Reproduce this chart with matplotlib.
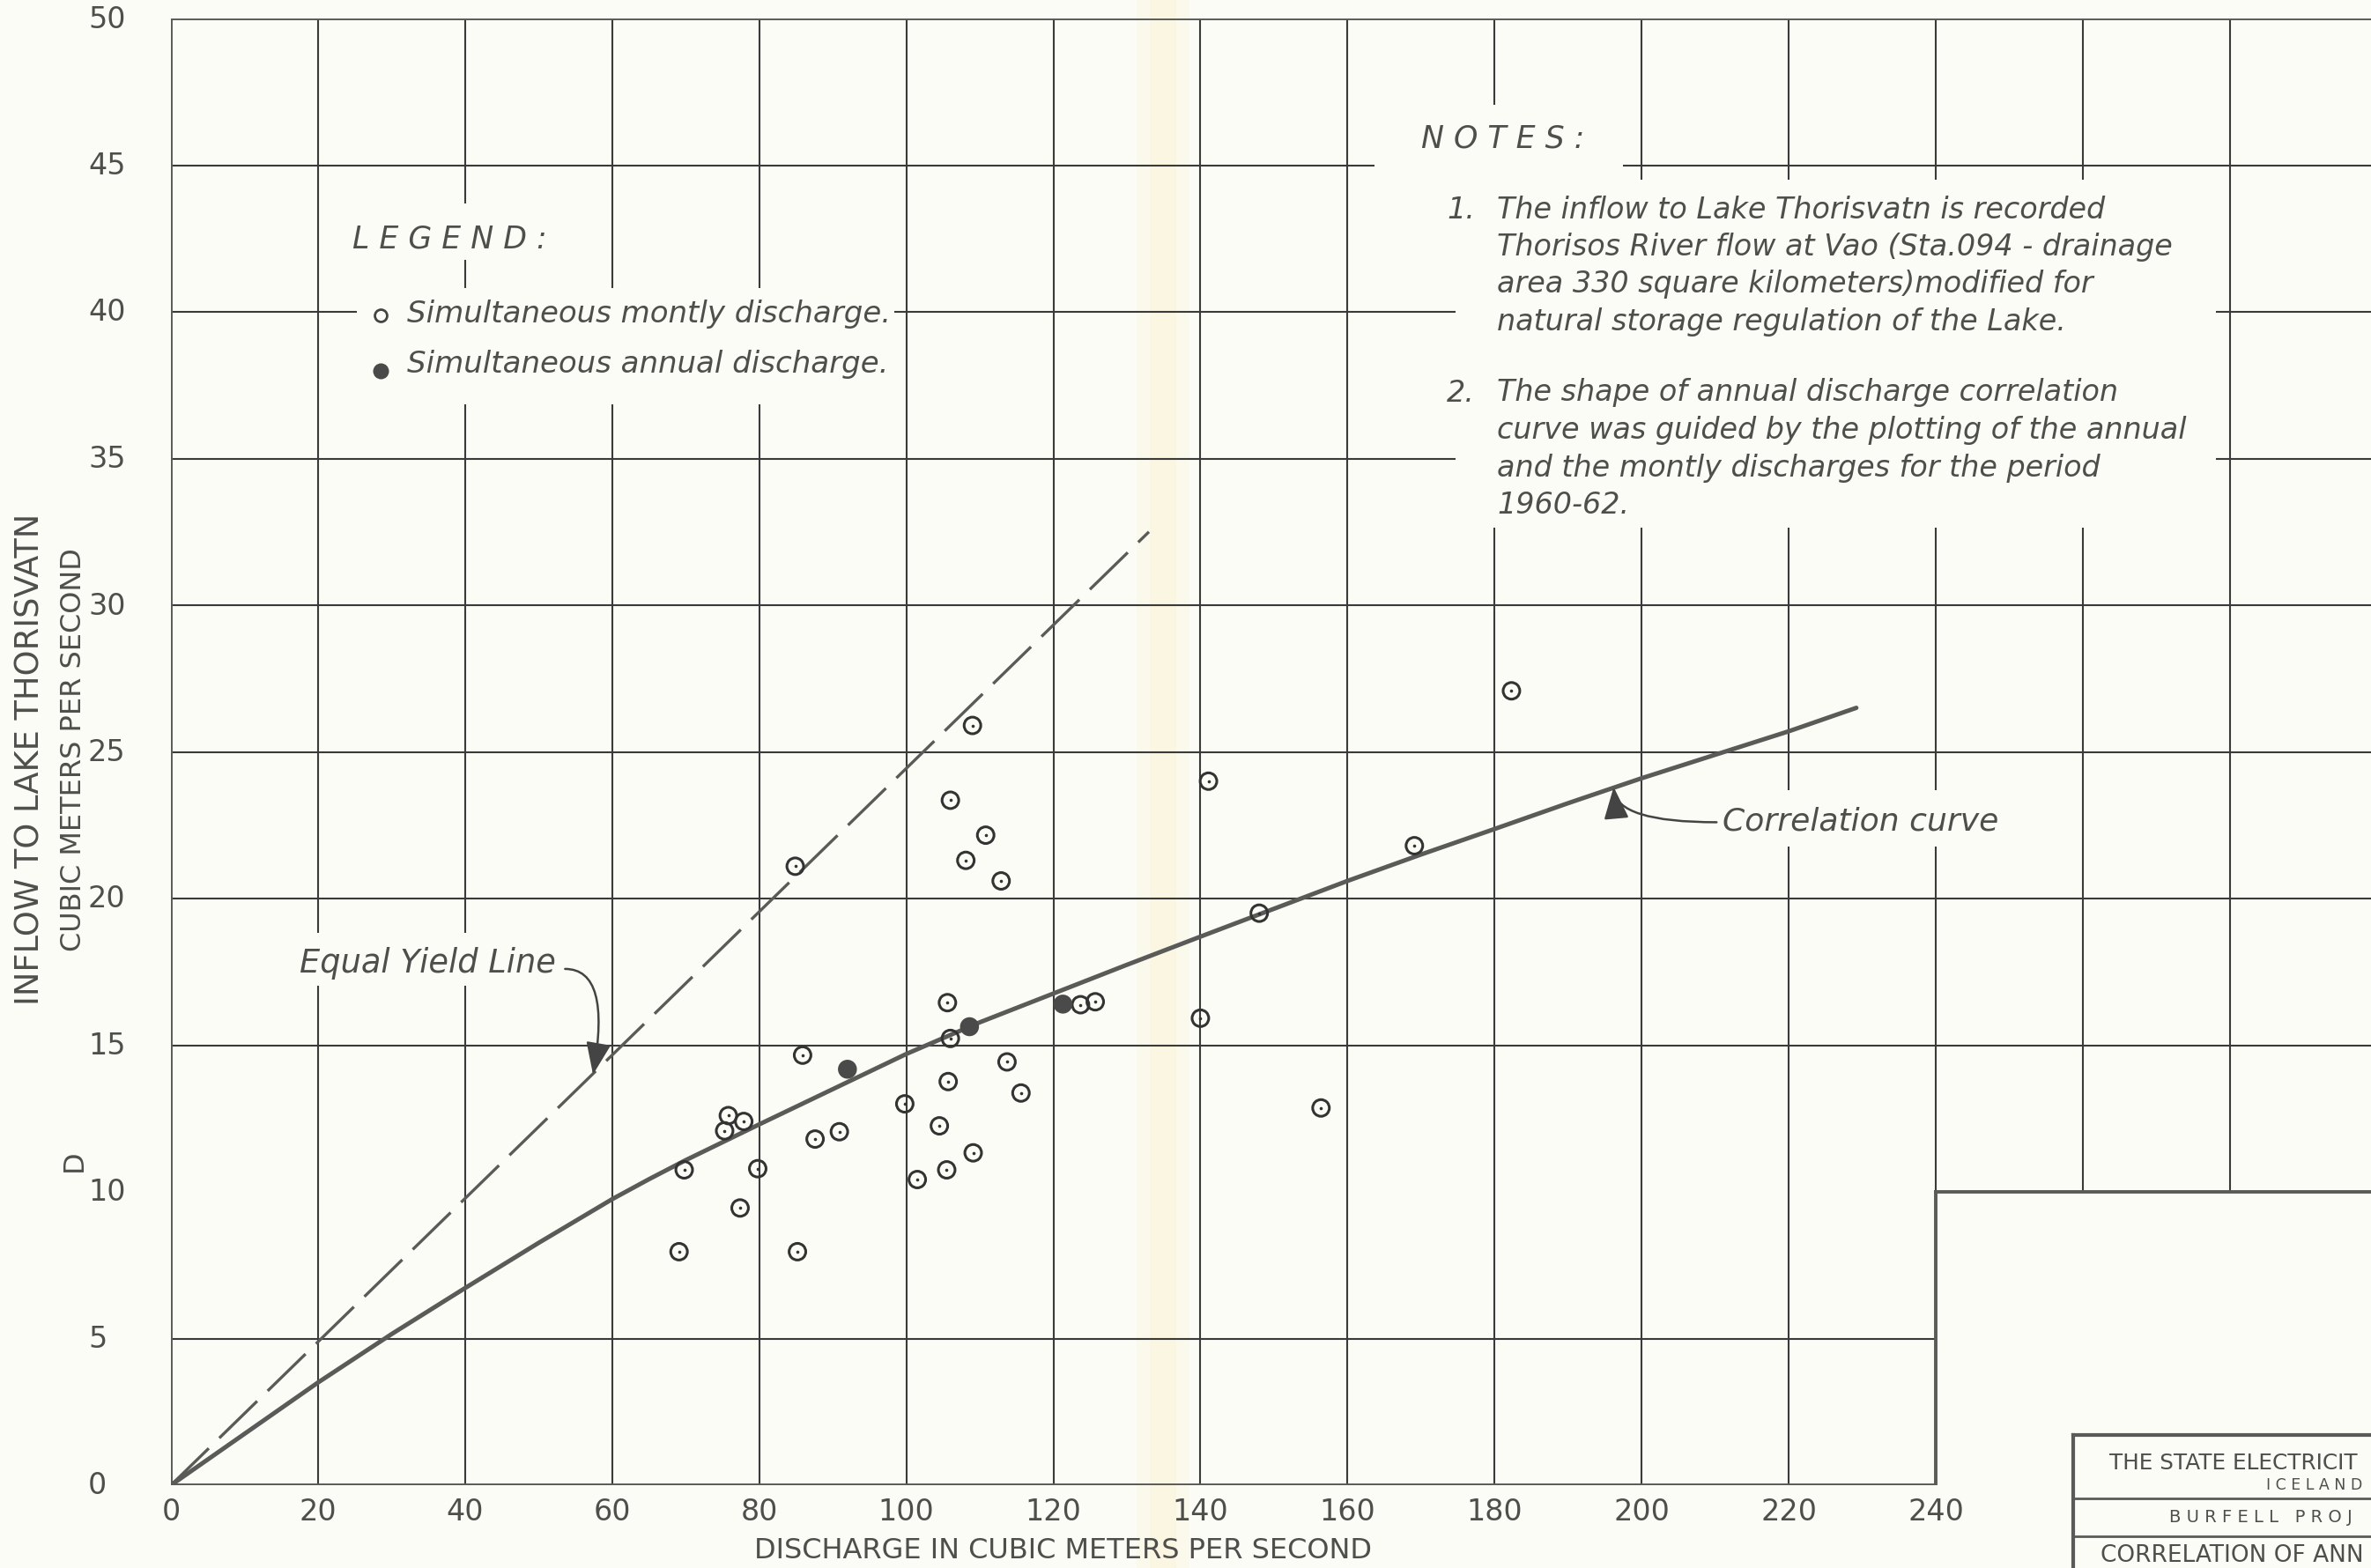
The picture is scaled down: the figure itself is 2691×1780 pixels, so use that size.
import matplotlib

matplotlib.use("Agg")
import matplotlib.pyplot as plt
import matplotlib.transforms as mtransforms
from matplotlib.patches import Rectangle

# ---- data ----
monthly_x = [69.1, 69.8, 75.3, 75.8, 77.4, 77.9, 79.8, 84.9, 85.2, 85.9, 87.6, 90.9,
             99.8, 101.5, 104.5, 105.5, 105.6, 105.7, 106.0, 106.0, 108.1, 109.0,
             109.1, 110.8, 112.9, 113.7, 115.6, 123.7, 125.7, 140.0, 141.1, 148.0,
             156.4, 169.1, 182.3]
monthly_y = [7.96, 10.75, 12.08, 12.6, 9.45, 12.4, 10.79, 21.1, 7.96, 14.66, 11.8, 12.05,
             13.0, 10.42, 12.25, 10.75, 16.45, 13.76, 23.35, 15.23, 21.3, 25.9,
             11.33, 22.16, 20.6, 14.43, 13.37, 16.38, 16.48, 15.92, 24.0, 19.5,
             12.86, 21.8, 27.08]
annual_x = [92.0, 108.6, 121.3]
annual_y = [14.18, 15.63, 16.4]

curve_x = [0, 20, 30, 40, 50, 60, 65, 70, 80, 90, 100, 110, 120, 130, 140, 150, 160,
           170, 180, 190, 200, 210, 220, 229.2]
curve_y = [0, 3.5, 5.15, 6.72, 8.26, 9.75, 10.43, 11.08, 12.3, 13.5, 14.7, 15.78, 16.76,
           17.74, 18.7, 19.65, 20.6, 21.5, 22.37, 23.25, 24.1, 24.9, 25.7, 26.5]

equal_x = [0, 133]
equal_y = [0, 32.5]

x_ticks = [0, 20, 40, 60, 80, 100, 120, 140, 160, 180, 200, 220, 240]
y_ticks = [0, 5, 10, 15, 20, 25, 30, 35, 40, 45, 50]
x_grid_upper = [260, 280]          # columns past 240 only above y = 10

notes_1 = ["The inflow to Lake Thorisvatn is recorded",
           "Thorisos River flow at Vao (Sta.094 - drainage",
           "area 330 square kilometers)modified for",
           "natural storage regulation of the Lake."]
notes_2 = ["The shape of annual discharge correlation",
           "curve was guided by the plotting of the annual",
           "and the montly discharges for the period",
           "1960-62."]

# ---- page geometry (pixels) ----
W, H = 2691, 1781
X0_PX, X240_PX = 194, 2197
Y0_PX, Y50_PX = 1687, 22
XMAX = 240 * (W - X0_PX) / (X240_PX - X0_PX)

PAPER = "#fcfcf6"
INK = "#3a3a3a"
PEN = "#5a5a58"
TXT = "#4e4e4c"


def fx(px):
    return px / W


def fy(py):
    return 1 - py / H


fig = plt.figure(figsize=(W / 100, H / 100), dpi=100, facecolor=PAPER)
ax = fig.add_axes([fx(X0_PX), fy(Y0_PX), 1 - fx(X0_PX), fy(Y50_PX) - fy(Y0_PX)])
ax.set_xlim(0, XMAX)
ax.set_ylim(0, 50)
ax.set_facecolor("none")
ax.set_axis_off()

# fold in the paper
for x0, x1, a in [(1290, 1350, 0.25), (1305, 1335, 0.35)]:
    ax.add_patch(Rectangle((fx(x0), 0), fx(x1) - fx(x0), 1, transform=fig.transFigure,
                           facecolor="#fbf3d2", edgecolor="none", alpha=a, zorder=0.2,
                           clip_on=False))

# ---- grid ----
glw = 1.5
ax.vlines(x_ticks[1:-1], 0, 50, color=INK, lw=glw, zorder=1)
ax.vlines([240] + x_grid_upper, 10, 50, color=INK, lw=glw, zorder=1)
ax.hlines(5, 0, 240, color=INK, lw=glw, zorder=1)
ax.hlines(y_ticks[3:-1], 0, XMAX, color=INK, lw=glw, zorder=1)

# outline
flw = 2.8
ax.plot([0, 0], [0, 50], color=PEN, lw=flw, zorder=1.2, solid_capstyle="projecting")
ax.plot([0, 240, 240], [0, 0, 10], color=PEN, lw=flw, zorder=1.2)
ax.plot([240, XMAX], [10, 10], color=PEN, lw=flw, zorder=1.2)
ax.plot([0, XMAX], [50, 50], color=PEN, lw=flw, zorder=1.2)


# paper showing through around the lettering
def blank(x0, y0, x1, y1):
    ax.add_patch(Rectangle((fx(x0), fy(y1)), fx(x1) - fx(x0), fy(y0) - fy(y1),
                           transform=fig.transFigure, facecolor=PAPER, edgecolor="none",
                           zorder=1.5, clip_on=False))


blank(395, 232, 640, 296)      # LEGEND:
blank(405, 328, 1015, 460)     # legend entries
blank(1560, 120, 1842, 205)    # NOTES:
blank(1652, 205, 2515, 600)    # notes text
blank(335, 1060, 645, 1120)    # Equal Yield Line
blank(1945, 898, 2290, 962)    # Correlation curve

# ---- curves and points ----
ax.plot(equal_x, equal_y, color=PEN, lw=2.4, dashes=(18, 5), zorder=2)
ax.plot(curve_x, curve_y, color=PEN, lw=3.6, solid_capstyle="round",
        solid_joinstyle="round", zorder=2.2)

ax.scatter(monthly_x, monthly_y, s=185, facecolors="none", edgecolors="#333333",
           linewidths=2.2, zorder=3)
ax.scatter(monthly_x, monthly_y, s=2.5, color="#333333", zorder=3)
ax.scatter(annual_x, annual_y, s=240, color="#4a4a4a", edgecolors="none", zorder=3.1)

# ---- tick labels ----
xlab_tr = mtransforms.blended_transform_factory(ax.transData, fig.transFigure)
ylab_tr = mtransforms.blended_transform_factory(fig.transFigure, ax.transData)
for v in x_ticks:
    ax.text(v, fy(1717), str(v), transform=xlab_tr, ha="center", va="center",
            fontsize=24, color=TXT, clip_on=False)
for v in y_ticks:
    ax.text(fx(100), v, str(v), transform=ylab_tr, ha="left", va="center",
            fontsize=24, color=TXT, clip_on=False)

fig.text(fx(1206), fy(1761), "DISCHARGE IN CUBIC METERS PER SECOND", ha="center",
         va="center", fontsize=23, color=TXT)
fig.text(fx(34), fy(862), "INFLOW TO LAKE THORISVATN", rotation=90, ha="center",
         va="center", fontsize=26.5, color=TXT)
fig.text(fx(84), fy(851), "CUBIC METERS PER SECOND", rotation=90, ha="center",
         va="center", fontsize=23, color=TXT)
fig.text(fx(84), fy(1318), "D", rotation=90, ha="center", va="center", fontsize=23,
         color=TXT)

# ---- legend ----
it = dict(style="italic", color=TXT, va="center", ha="left")
fig.text(fx(400), fy(271), "L E G E N D :", fontsize=25, **it)
ax.plot([fx(432)], [fy(359)], transform=fig.transFigure, marker="o", ms=10,
        mfc="none", mec="#444444", mew=2, clip_on=False, zorder=3)
ax.plot([fx(432)], [fy(422)], transform=fig.transFigure, marker="o", ms=13,
        mfc="#4a4a4a", mec="none", clip_on=False, zorder=3)
fig.text(fx(462), fy(357), "Simultaneous montly discharge.", fontsize=24.5, **it)
fig.text(fx(462), fy(413), "Simultaneous annual discharge.", fontsize=24.5, **it)

# ---- notes ----
fig.text(fx(1613), fy(158), "N O T E S :", fontsize=25, **it)
line_gap = 42.5
fig.text(fx(1642), fy(238), "1.", fontsize=24, **it)
for i, s in enumerate(notes_1):
    fig.text(fx(1699), fy(238 + i * line_gap), s, fontsize=24, **it)
fig.text(fx(1642), fy(446), "2.", fontsize=24, **it)
for i, s in enumerate(notes_2):
    fig.text(fx(1699), fy(446 + i * line_gap), s, fontsize=24, **it)

# ---- callouts ----
fig.text(fx(340), fy(1093), "Equal Yield Line", fontsize=26.5, **it)
ax.annotate("", xy=(57.4, 14.0), xytext=(53.6, 17.6),
            arrowprops=dict(arrowstyle="-|>,head_length=0.9,head_width=0.35",
                            connectionstyle="angle3,angleA=0,angleB=80",
                            color="#444444", lw=1.8, shrinkA=0, shrinkB=0,
                            mutation_scale=25), zorder=4)
fig.text(fx(1955), fy(933), "Correlation curve", fontsize=26, **it)
ax.annotate("", xy=(196.2, 23.8), xytext=(210.2, 22.6),
            arrowprops=dict(arrowstyle="-|>,head_length=0.9,head_width=0.35",
                            connectionstyle="angle3,angleA=180,angleB=95",
                            color="#444444", lw=1.8, shrinkA=0, shrinkB=0,
                            mutation_scale=25), zorder=4)

# ---- title block ----
TB_L, TB_T = 2353, 1630
ax.plot([fx(TB_L), fx(TB_L)], [fy(H + 5), fy(TB_T)], transform=fig.transFigure,
        color=PEN, lw=3, clip_on=False, zorder=3)
ax.plot([fx(TB_L), 1.01], [fy(TB_T), fy(TB_T)], transform=fig.transFigure,
        color=PEN, lw=3, clip_on=False, zorder=3)
for yy in (1702, 1745):
    ax.plot([fx(TB_L), 1.01], [fy(yy), fy(yy)], transform=fig.transFigure,
            color=PEN, lw=2, clip_on=False, zorder=3)
up = dict(color=TXT, va="center", ha="left")
fig.text(fx(2394), fy(1661), "THE STATE ELECTRICIT", fontsize=17.8, **up)
fig.text(fx(2572), fy(1686), "I C E L A N D", fontsize=12.5, **up)
fig.text(fx(2462), fy(1723), "B U R F E L L   P R O J", fontsize=14, **up)
fig.text(fx(2384), fy(1766), "CORRELATION OF ANN", fontsize=19, **up)

fig.savefig("out.png", dpi=100, facecolor=PAPER)
